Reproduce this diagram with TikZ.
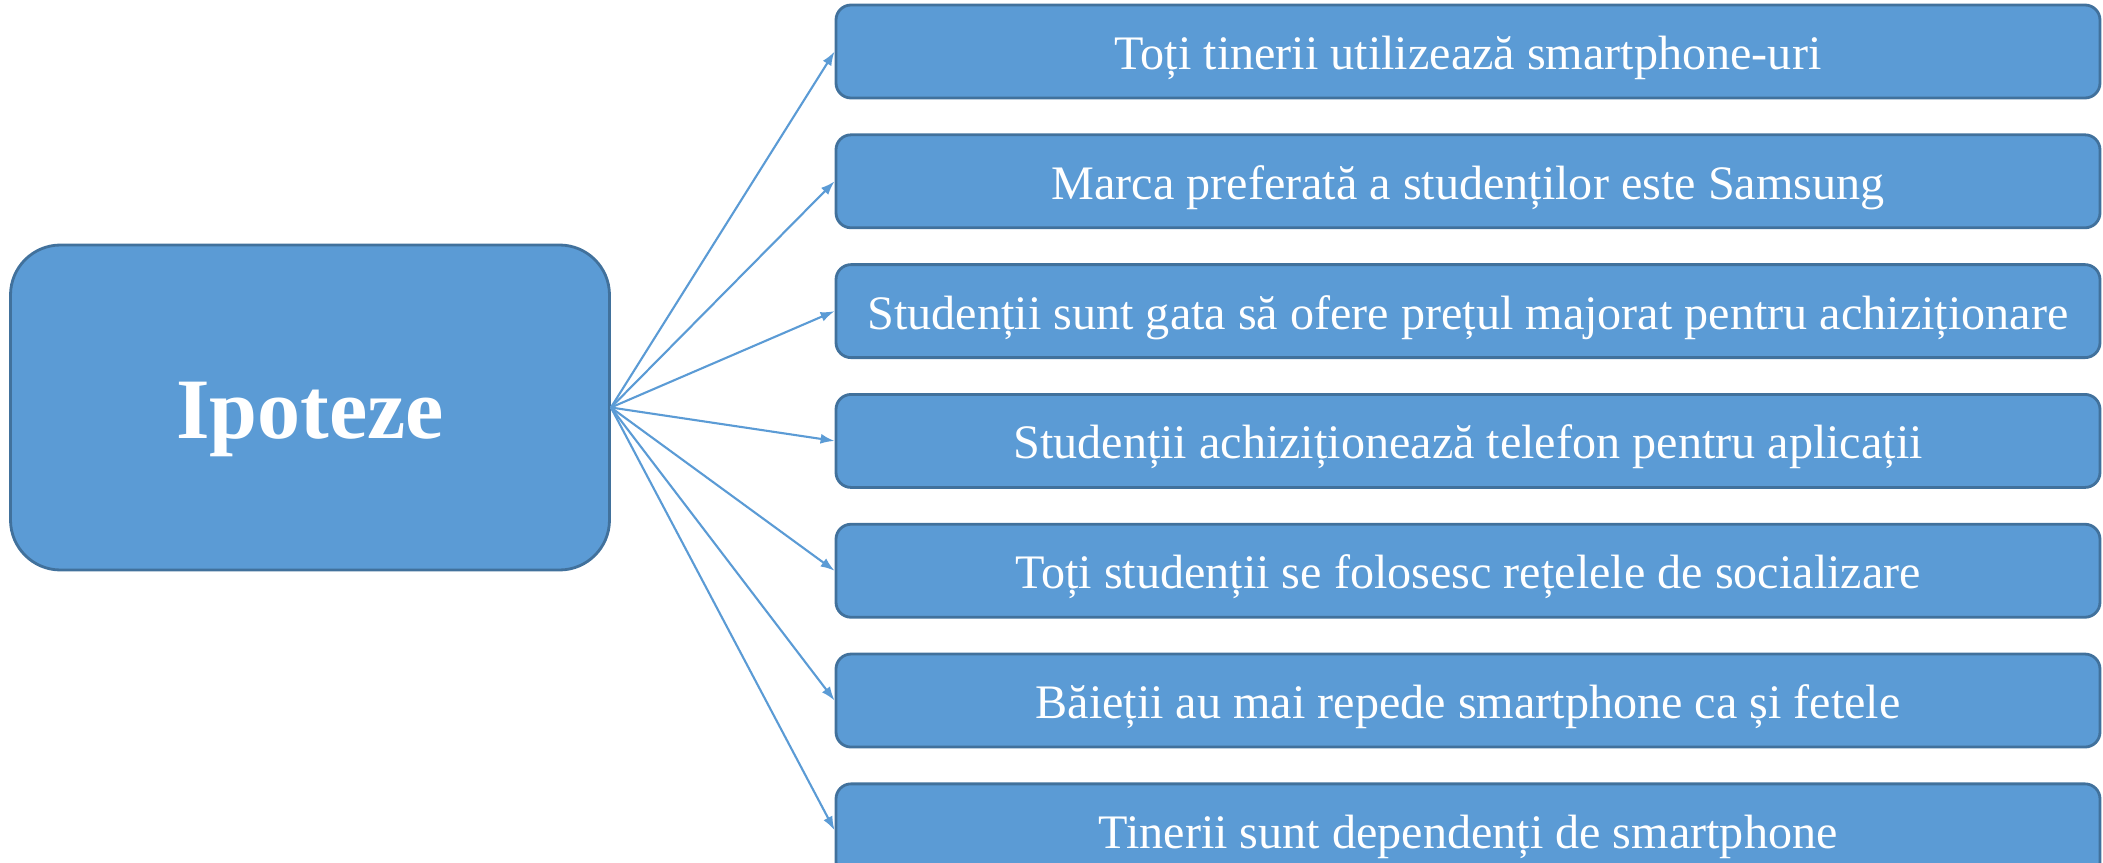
\documentclass[tikz,border=0pt]{standalone}
\usepackage{fontspec}
\setmainfont{Liberation Serif}
\usepackage{xcolor}
\usetikzlibrary{positioning, arrows.meta}
\definecolor{boxblue}{HTML}{5B9BD5}
\definecolor{boxedge}{HTML}{41719C}

\begin{document}
\begin{tikzpicture}[
        main/.style={draw=boxedge, line width=0.8pt, fill=boxblue, rounded corners=0.5cm,
            minimum width=5.99cm, minimum height=3.25cm, text=white,
            text height=0.61cm, text depth=0cm,
            font=\fontsize{24.5}{29}\selectfont\bfseries},
        hyp/.style={draw=boxedge, line width=0.8pt, fill=boxblue, rounded corners=0.15cm,
            minimum width=12.64cm, minimum height=0.93cm, inner sep=0pt, text=white,
            text height=0.36cm, text depth=0cm,
            font=\fontsize{13.7}{16}\selectfont},
        link/.style={-{Latex[length=1.4mm, width=1mm]}, draw=boxblue, line width=0.6pt}
    ]
            \useasboundingbox (0,0) rectangle (21.03,8.62);
            \node[main] (I) at (3.10,4.545) {Ipoteze};
            \node[hyp] (H1) at (14.68,8.105) {Toți tinerii utilizează smartphone-uri};
            \node[hyp, below=0.34cm of H1] (H2) {Marca preferată a studenților este Samsung};
            \node[hyp, below=0.34cm of H2] (H3) {Studenții sunt gata să ofere prețul majorat pentru achiziționare};
            \node[hyp, below=0.34cm of H3] (H4) {Studenții achiziționează telefon pentru aplicații};
            \node[hyp, below=0.34cm of H4] (H5) {Toți studenții se folosesc rețelele de socializare};
            \node[hyp, below=0.34cm of H5] (H6) {Băieții au mai repede smartphone ca și fetele};
            \node[hyp, below=0.34cm of H6] (H7) {Tinerii sunt dependenți de smartphone};
            \draw[link] (I.east) -- (H1.west);
            \draw[link] (I.east) -- (H2.west);
            \draw[link] (I.east) -- (H3.west);
            \draw[link] (I.east) -- (H4.west);
            \draw[link] (I.east) -- (H5.west);
            \draw[link] (I.east) -- (H6.west);
            \draw[link] (I.east) -- (H7.west);
\end{tikzpicture}
\end{document}
